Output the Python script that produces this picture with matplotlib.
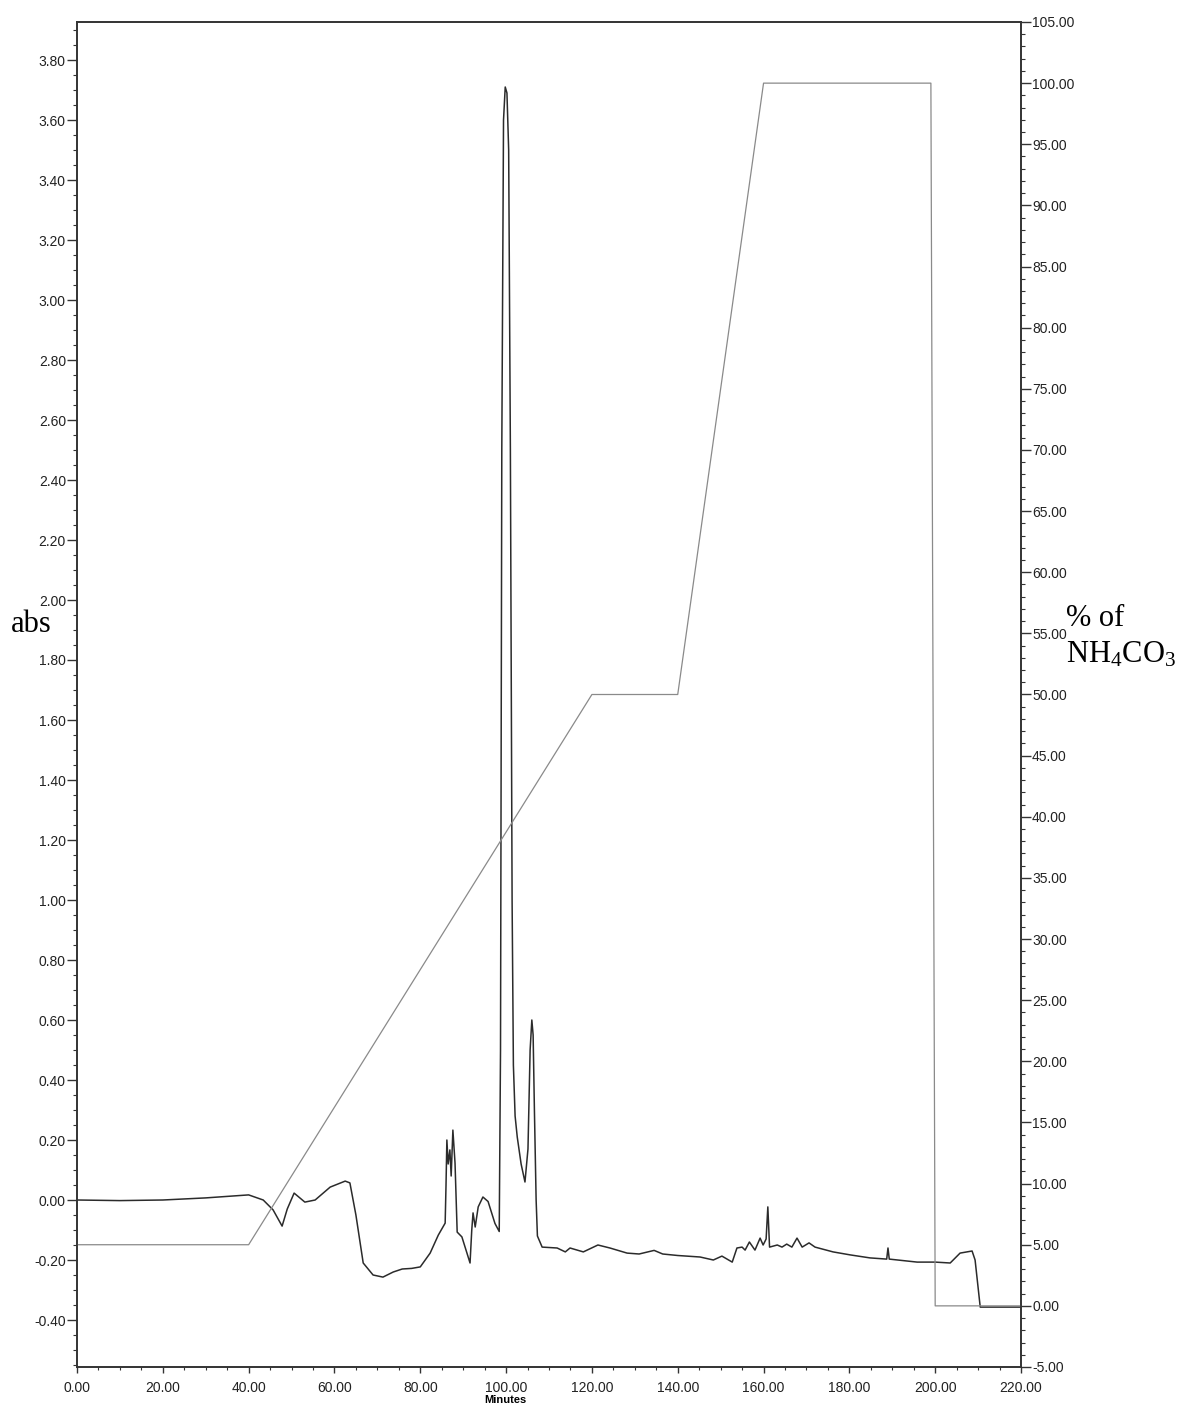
import matplotlib
matplotlib.use("Agg")
import matplotlib.pyplot as plt
from matplotlib.ticker import MultipleLocator, FormatStrFormatter

plt.rcParams['font.family'] = ['Liberation Sans', 'DejaVu Sans']
plt.rcParams['mathtext.fontset'] = 'custom'
plt.rcParams['mathtext.rm'] = 'Liberation Serif'
plt.rcParams['mathtext.it'] = 'Liberation Serif:italic'

# Absorbance trace (minutes, abs)
abs_time = [0, 10, 20, 30, 35, 40, 43.4, 45.7, 47.8, 49.0, 50.6, 53.1, 55.5, 59, 62.5, 63.6,
            65.0, 66.7, 69, 71.3, 73.7, 75.8, 78, 80, 82.3, 84.2, 85.8, 86.0, 86.2, 86.5, 86.9,
            87.2, 87.6, 88.1, 88.6, 89.7, 91.6, 92.0, 92.3, 92.8, 93.5, 94.6, 95.8, 97.4, 98.4,
            98.7, 99.0, 99.4, 99.8, 100.2, 100.6, 101.0, 101.4, 101.7, 102.1, 102.6, 103.5, 104.4,
            105.1, 105.6, 106.0, 106.3, 106.6, 107.0, 107.3, 108.4, 111.9, 113.8, 114.9, 118,
            121.4, 124.2, 128.2, 131, 134.5, 136.5, 140, 145.2, 148.3, 150.3, 152.7, 153.8, 155,
            155.7, 156.7, 158, 159.2, 159.9, 160.6, 161.0, 161.4, 163.2, 164.3, 165.4, 166.6,
            167.8, 169, 170.6, 172, 176.2, 180.2, 184.8, 188.7, 189.0, 189.3, 195.8, 200, 203.5,
            205.8, 208.6, 209.3, 210.5, 220]
abs_value = [0.000, -0.002, 0.000, 0.007, 0.012, 0.017, 0.000, -0.033, -0.087, -0.03, 0.023,
             -0.007, 0.000, 0.043, 0.063, 0.057, -0.05, -0.21, -0.25, -0.257, -0.24, -0.23,
             -0.228, -0.223, -0.177, -0.117, -0.077, 0.05, 0.2, 0.12, 0.167, 0.08, 0.233, 0.123,
             -0.107, -0.123, -0.21, -0.1, -0.043, -0.09, -0.023, 0.01, -0.005, -0.078, -0.105,
             0.5, 2.5, 3.6, 3.71, 3.69, 3.5, 2.5, 1.0, 0.45, 0.28, 0.21, 0.12, 0.06,
             0.17, 0.5, 0.6, 0.55, 0.3, 0.0, -0.12, -0.157, -0.16, -0.173, -0.16, -0.173,
             -0.15, -0.16, -0.177, -0.18, -0.168, -0.18, -0.185, -0.19, -0.2, -0.187, -0.207,
             -0.16, -0.157, -0.167, -0.14, -0.167, -0.127, -0.15, -0.13, -0.023, -0.157, -0.15,
             -0.157, -0.147, -0.157, -0.127, -0.157, -0.143, -0.157, -0.173, -0.183, -0.193,
             -0.197, -0.16, -0.197, -0.207, -0.207, -0.21, -0.177, -0.17, -0.2, -0.357, -0.357]

# Gradient (% of NH4CO3)
grad_time = [0, 40, 120, 140, 160, 199, 200, 220]
grad_value = [5, 5, 50, 50, 100, 100, 0, 0]

W, H = 1180, 1406
fig = plt.figure(figsize=(W / 100, H / 100), dpi=100)
L, R, B, T = 77 / W, 1021 / W, 1 - 1367 / H, 1 - 22 / H
ax = fig.add_axes([L, B, R - L, T - B])
ax2 = ax.twinx()

axis_col = '#333333'
ax2.plot(grad_time, grad_value, color='#8a8a8a', lw=0.9)
ax.plot(abs_time, abs_value, color='#2b2b2b', lw=1.1)

ax.set_xlim(0, 220)
ax.set_ylim(-167 / 300, 1178 / 300)
ax2.set_ylim(-5, 105)

ax.xaxis.set_major_locator(MultipleLocator(20))
ax.xaxis.set_minor_locator(MultipleLocator(5))
ax.xaxis.set_major_formatter(FormatStrFormatter('%.2f'))
ax.yaxis.set_major_locator(MultipleLocator(0.2))
ax.yaxis.set_minor_locator(MultipleLocator(0.05))
ax.yaxis.set_major_formatter(FormatStrFormatter('%.2f'))
ax2.yaxis.set_major_locator(MultipleLocator(5))
ax2.yaxis.set_minor_locator(MultipleLocator(1))
ax2.yaxis.set_major_formatter(FormatStrFormatter('%.2f'))

for a in (ax, ax2):
    for s in a.spines.values():
        s.set_color(axis_col)
        s.set_linewidth(1.2)
    a.tick_params(which='major', length=7, width=1, color=axis_col, labelsize=10,
                  labelcolor='#222222', pad=1)
    a.tick_params(which='minor', length=3, width=0.8, color=axis_col)
ax.tick_params(axis='x', which='major', length=4, pad=6)
ax.tick_params(axis='x', which='minor', length=2)

serif = 'Liberation Serif'
fig.text(31 / W, 1 - 624 / H, 'abs', family=serif, fontsize=22,
         ha='center', va='center')
fig.text(1095 / W, 1 - 619 / H, '% of', family=serif, fontsize=22,
         ha='center', va='center')
fig.text(1121 / W, 1 - 655 / H, r'NH$_4$CO$_3$', family=serif, fontsize=22,
         ha='center', va='center')
fig.text(505 / W, 1 - 1400 / H, 'Minutes', fontsize=8, fontweight='bold',
         ha='center', va='center')

fig.savefig('out.png', dpi=100)
